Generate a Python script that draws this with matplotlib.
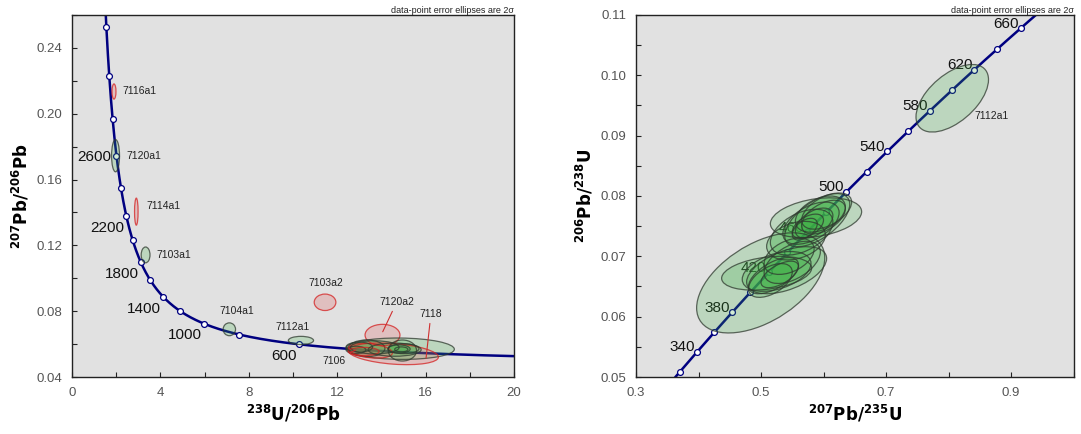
import numpy as np
import matplotlib
matplotlib.use("Agg")
import matplotlib.pyplot as plt
from matplotlib.patches import Ellipse
from matplotlib.ticker import MultipleLocator

plt.rcParams['font.family'] = ['Liberation Sans', 'DejaVu Sans']

# ---------------- constants (U decay) ----------------
LAMBDA238 = 1.55125e-10
LAMBDA235 = 9.8485e-10
U238_U235 = 137.88

# ---------------- concordia age markers ----------------
tw_marker_ages = [600, 800, 1000, 1200, 1400, 1600, 1800, 2000, 2200, 2400, 2600, 2800, 3000, 3200]
tw_label_ages = [600, 1000, 1400, 1800, 2200, 2600]
wc_marker_ages = [320, 340, 360, 380, 400, 420, 440, 460, 480, 500, 520, 540, 560, 580, 600, 620, 640, 660, 680]
wc_label_ages = [340, 380, 420, 460, 500, 540, 580, 620, 660]

# ---------------- Tera-Wasserburg data (238U/206Pb, 207Pb/206Pb), 2-sigma ----------------
tw_x   = [1.90, 1.97, 2.91, 3.33, 7.12, 10.36, 11.45, 14.05, 14.85, 14.54, 12.85, 13.33, 13.50, 14.95, 13.70, 14.80, 14.90, 15.00, 13.20, 13.00, 14.60]
tw_sx  = [0.09, 0.18, 0.08, 0.20, 0.28, 0.57, 0.49, 0.79, 2.45, 2.04, 0.45, 0.83, 1.00, 0.64, 1.10, 0.50, 0.30, 0.70, 0.70, 0.60, 1.20]
tw_y   = [0.2135, 0.1745, 0.1405, 0.1142, 0.0690, 0.0622, 0.0854, 0.0655, 0.0572, 0.0541, 0.0565, 0.0574, 0.0560, 0.0561, 0.0580, 0.0570, 0.0568, 0.0572, 0.0555, 0.0582, 0.0566]
tw_sy  = [0.0046, 0.0098, 0.0082, 0.0048, 0.0039, 0.0025, 0.0050, 0.0065, 0.0065, 0.0066, 0.0022, 0.0051, 0.0045, 0.0064, 0.0040, 0.0025, 0.0015, 0.0030, 0.0025, 0.0030, 0.0040]
tw_rho = [0.0, 0.0, 0.0, 0.0, 0.0, 0.0, 0.0, 0.0, -0.05, -0.30, 0.0, 0.0, -0.3, 0.0, 0.0, 0.0, 0.0, 0.0, 0.0, 0.0, 0.0]
tw_concordant = [False, True, False, True, True, True, False, False, True, False, True, True, False, True, True, True, True, True, False, True, True]

# sample labels (Tera-Wasserburg)
tw_names = ["7116a1", "7120a1", "7114a1", "7103a1", "7104a1", "7112a1", "7103a2"]

# ---------------- Wetherill data (207Pb/235U, 206Pb/238U), 2-sigma ----------------
wc_x   = [0.806, 0.4995, 0.588, 0.556, 0.590, 0.585, 0.575, 0.600, 0.570, 0.595, 0.580, 0.509, 0.541, 0.520, 0.530, 0.515, 0.550, 0.525, 0.605, 0.565, 0.545]
wc_sx  = [0.058, 0.1025, 0.073, 0.047, 0.052, 0.030, 0.025, 0.035, 0.020, 0.040, 0.045, 0.072, 0.064, 0.040, 0.030, 0.035, 0.045, 0.055, 0.040, 0.050, 0.040]
wc_y   = [0.0962, 0.0656, 0.0764, 0.0726, 0.0760, 0.0755, 0.0750, 0.0765, 0.0745, 0.0770, 0.0755, 0.0672, 0.0677, 0.0668, 0.0670, 0.0660, 0.0690, 0.0675, 0.0775, 0.0740, 0.0700]
wc_sy  = [0.0056, 0.0083, 0.0033, 0.0032, 0.0044, 0.0025, 0.0020, 0.0028, 0.0018, 0.0030, 0.0035, 0.0028, 0.0039, 0.0030, 0.0022, 0.0028, 0.0035, 0.0033, 0.0030, 0.0038, 0.0030]
wc_rho = [0.55, 0.50, 0.30, 0.30, 0.60, 0.50, 0.50, 0.50, 0.50, 0.40, 0.50, 0.30, 0.50, 0.60, 0.60, 0.50, 0.50, 0.40, 0.50, 0.45, 0.40]
wc_names = ["7112a1"]

# ---------------- styles ----------------
BG = '#e1e1e1'
LINE = '#000080'
G_FACE = '#3cb043'
G_EDGE = '#2f3a2f'
R_FACE = '#e04848'
R_EDGE = '#d42020'


def tw_curve(t):
    e8 = np.exp(LAMBDA238 * t) - 1
    e5 = np.exp(LAMBDA235 * t) - 1
    return 1.0 / e8, e5 / e8 / U238_U235


def wc_curve(t):
    return np.exp(LAMBDA235 * t) - 1, np.exp(LAMBDA238 * t) - 1


def add_ellipse(ax, x, y, sx, sy, rho, concordant):
    cov = np.array([[sx * sx, rho * sx * sy], [rho * sx * sy, sy * sy]])
    vals, vecs = np.linalg.eigh(cov)
    order = vals.argsort()[::-1]
    vals, vecs = vals[order], vecs[:, order]
    ang = np.degrees(np.arctan2(vecs[1, 0], vecs[0, 0]))
    w, h = 2 * np.sqrt(vals[0]), 2 * np.sqrt(max(vals[1], 0))
    face = G_FACE if concordant else R_FACE
    edge = G_EDGE if concordant else R_EDGE
    ax.add_patch(Ellipse((x, y), w, h, angle=ang, facecolor=face, alpha=0.22,
                         edgecolor='none', zorder=4))
    ax.add_patch(Ellipse((x, y), w, h, angle=ang, facecolor='none',
                         edgecolor=edge, lw=0.9, alpha=0.75, zorder=5))


def style_axes(ax):
    ax.set_facecolor(BG)
    for s in ax.spines.values():
        s.set_color('#222222')
        s.set_linewidth(1.0)
    ax.tick_params(which='both', direction='in', length=3.5, width=0.8,
                   colors='#222222', labelcolor='#555555', labelsize=9.5, pad=7)
    ax.text(1.0, 1.0, 'data-point error ellipses are 2σ', transform=ax.transAxes,
            ha='right', va='bottom', fontsize=6.5, color='#222222')


fig = plt.figure(figsize=(10.81, 4.34), dpi=100)
ax1 = fig.add_axes([72 / 1081, 57 / 434, 442 / 1081, 362 / 434])
ax2 = fig.add_axes([636 / 1081, 57 / 434, 437.5 / 1081, 362 / 434])

# ================= left: Tera-Wasserburg =================
style_axes(ax1)
t = np.linspace(250e6, 3500e6, 1500)
cx, cy = tw_curve(t)
ax1.plot(cx, cy, color=LINE, lw=1.8, zorder=2)
mx, my = tw_curve(np.array(tw_marker_ages) * 1e6)
ax1.plot(mx, my, 'o', ms=4.2, mfc='white', mec=LINE, mew=0.9, zorder=3)
for age in tw_label_ages:
    lx, ly = tw_curve(age * 1e6)
    if age == 2600:
        off, va = (-3.5, -1), 'center'
    else:
        off, va = (-1.5, -3.5), 'top'
    ax1.annotate(str(age), (lx, ly), xytext=off, textcoords='offset points',
                 ha='right', va=va, fontsize=11, color='#111111', zorder=2)

for i in range(len(tw_x)):
    add_ellipse(ax1, tw_x[i], tw_y[i], tw_sx[i], tw_sy[i], tw_rho[i], tw_concordant[i])

# sample labels with offsets (points) from their ellipse centres
tw_label_style = {
    "7116a1": ((6.3, 0.5), 'left'),
    "7120a1": ((7.6, 0.0), 'left'),
    "7114a1": ((7.5, 4.2), 'left'),
    "7103a1": ((8.0, 0.0), 'left'),
    "7104a1": ((5.3, 13.2), 'center'),
    "7112a1": ((-6.3, 9.8), 'center'),
    "7103a2": ((0.5, 14.1), 'center'),
}
for i, name in enumerate(tw_names):
    off, ha = tw_label_style[name]
    ax1.annotate(name, (tw_x[i], tw_y[i]), xytext=off, textcoords='offset points',
                 ha=ha, va='center', fontsize=7.5, color='#222222', zorder=6)

# leader-line labels
lead_kw = dict(arrowprops=dict(arrowstyle='-', color='#d03030', lw=0.8, shrinkA=1, shrinkB=0),
               ha='center', va='center', fontsize=7.5, color='#222222', zorder=6)
ax1.annotate("7120a2", xy=(14.06, 0.0675), xytext=(14.69, 0.0854), **lead_kw)
ax1.annotate("7118", xy=(16.02, 0.0514), xytext=(16.24, 0.0781), **lead_kw)
ax1.annotate("7106", xy=(12.85, 0.0565), xytext=(11.86, 0.0499), **lead_kw)

ax1.set_xlim(0, 20)
ax1.set_ylim(0.04, 0.26)
ax1.xaxis.set_minor_locator(MultipleLocator(2))
ax1.yaxis.set_minor_locator(MultipleLocator(0.02))
ax1.set_yticks([0.04, 0.08, 0.12, 0.16, 0.20, 0.24])
ax1.set_yticklabels(['0.04', '0.08', '0.12', '0.16', '0.20', '0.24'])
ax1.set_xticks([0, 4, 8, 12, 16, 20])
ax1.set_xticklabels(['0', '4', '8', '12', '16', '20'])
ax1.set_xlabel(r'$\mathbf{^{238}U/^{206}Pb}$', fontsize=12, labelpad=3)
ax1.set_ylabel(r'$\mathbf{^{207}Pb/^{206}Pb}$', fontsize=12, labelpad=4)

# ================= right: Wetherill =================
style_axes(ax2)
t = np.linspace(250e6, 750e6, 800)
cx, cy = wc_curve(t)
ax2.plot(cx, cy, color=LINE, lw=1.8, zorder=2)
mx, my = wc_curve(np.array(wc_marker_ages) * 1e6)
ax2.plot(mx, my, 'o', ms=4.2, mfc='white', mec=LINE, mew=0.9, zorder=3)
for age in wc_label_ages:
    lx, ly = wc_curve(age * 1e6)
    ax2.annotate(str(age), (lx, ly), xytext=(-1.5, 0.5), textcoords='offset points',
                 ha='right', va='baseline', fontsize=11, color='#111111', zorder=2)

for i in range(len(wc_x)):
    add_ellipse(ax2, wc_x[i], wc_y[i], wc_sx[i], wc_sy[i], wc_rho[i], True)

ax2.annotate(wc_names[0], (wc_x[0], wc_y[0]), xytext=(16, -12.5), textcoords='offset points',
             ha='left', va='center', fontsize=7.5, color='#222222', zorder=6)

ax2.set_xlim(0.3, 1.0)
ax2.set_ylim(0.05, 0.11)
ax2.xaxis.set_minor_locator(MultipleLocator(0.1))
ax2.yaxis.set_minor_locator(MultipleLocator(0.005))
ax2.set_xticks([0.3, 0.5, 0.7, 0.9])
ax2.set_xticklabels(['0.3', '0.5', '0.7', '0.9'])
ax2.set_yticks([0.05, 0.06, 0.07, 0.08, 0.09, 0.10, 0.11])
ax2.set_yticklabels(['0.05', '0.06', '0.07', '0.08', '0.09', '0.10', '0.11'])
ax2.set_xlabel(r'$\mathbf{^{207}Pb/^{235}U}$', fontsize=12, labelpad=3)
ax2.set_ylabel(r'$\mathbf{^{206}Pb/^{238}U}$', fontsize=12, labelpad=4)

fig.savefig('out.png', dpi=100, facecolor='white')
